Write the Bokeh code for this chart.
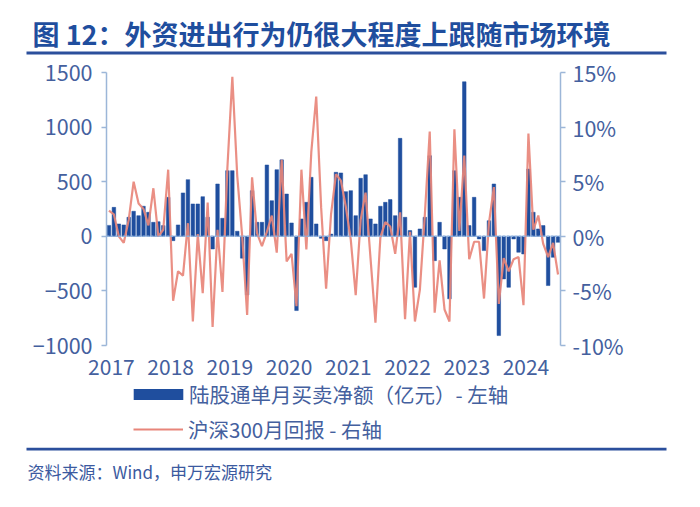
from bokeh.plotting import figure
from bokeh.layouts import column
from bokeh.models import (Range1d, LinearAxis, FixedTicker, Span, Label, Legend,
                          LegendItem, BoxAnnotation, CustomJSTickFormatter, ColumnDataSource)
from bokeh.embed import file_html
from bokeh.resources import INLINE

# ---------------- data ----------------
years = ["2017", "2018", "2019", "2020", "2021", "2022", "2023", "2024"]
months = [f"{2017 + i // 12}-{i % 12 + 1:02d}" for i in range(92)]

# 陆股通单月买卖净额（亿元）, Jan 2017 - Aug 2024
flow_2017 = [100, 265, 113, 104, 174, 229, 189, 275, 220, 128, 134, 98]
flow_2018 = [357, -40, 104, 397, 519, 296, 296, 363, 174, -116, 479, 165]
flow_2019 = [601, 601, 46, -200, -537, 418, 128, 128, 653, 326, 610, 700]
flow_2020 = [387, 122, -680, 159, 311, 540, 113, -18, -40, 20, 586, 580]
flow_2021 = [409, 418, 189, 531, 564, 159, 113, 275, 311, 336, 189, 897]
flow_2022 = [174, 52, -467, 67, 174, 738, -223, 128, -116, -573, 601, 357]
flow_2023 = [1415, 98, 357, -24, -131, 143, 479, -909, -390, -467, -24, -146]
flow_2024 = [-162, 616, 220, 67, 98, -451, -192, -55]

# 沪深300月回报 (%)
ret_2017 = [2.35, 2.0, 0.0, -0.6, 1.5, 5.0, 3.0, 2.5, 1.0, 4.4, 0.0, 0.6]
ret_2018 = [6.1, -5.9, -3.2, -3.6, 1.2, -7.8, 0.2, -5.2, 3.1, -8.3, 0.6, -5.1]
ret_2019 = [6.3, 14.6, 5.5, 0.0, -7.2, 5.4, 0.3, -0.9, 0.4, 1.9, -1.5, 7.0]
ret_2020 = [-2.3, -1.6, -6.4, 6.1, -1.2, 7.7, 12.8, 2.6, -4.8, 2.0, 5.7, 5.1]
ret_2021 = [2.7, -0.3, -5.4, 1.5, 4.0, -2.0, -7.9, -0.1, 1.3, 0.9, -1.6, 2.2]
ret_2022 = [-7.6, 0.4, -7.8, -4.9, 1.9, 9.6, -7.0, -2.2, -6.7, -7.8, 9.8, 0.5]
ret_2023 = [7.4, -2.1, -0.5, -0.5, -5.7, 1.2, 4.5, -6.2, -2.0, -3.2, -2.1, -1.9]
ret_2024 = [-6.3, 9.4, 0.6, 1.9, -0.7, -1.9, -0.6, -3.5]

left_ticks = [-1000, -500, 0, 500, 1000, 1500]
right_ticks = [-10, -5, 0, 5, 10, 15]

title_text = "图 12：外资进出行为仍很大程度上跟随市场环境"
bar_label = "陆股通单月买卖净额（亿元）- 左轴"
line_label = "沪深300月回报 - 右轴"
source_text = "资料来源：Wind，申万宏源研究"

flows = flow_2017 + flow_2018 + flow_2019 + flow_2020 + flow_2021 + flow_2022 + flow_2023 + flow_2024
rets = ret_2017 + ret_2018 + ret_2019 + ret_2020 + ret_2021 + ret_2022 + ret_2023 + ret_2024
idx = list(range(len(months)))

src = ColumnDataSource(dict(x=idx, month=months, flow=flows, ret=rets))

FONT = "Noto Sans CJK SC"
BLUE = "#1f4e9e"
RED = "#e8857a"
AXIS = "#9cb6d8"
TXT = "#44609e"
RULE = "#2b4f9c"


def blank(h, yr):
    f = figure(width=700, height=h, output_backend="svg", toolbar_location=None,
               x_range=Range1d(0, 700), y_range=yr, min_border=0, frame_align=False)
    f.axis.visible = False
    f.grid.visible = False
    f.outline_line_color = None
    return f


# ---------------- header ----------------
head = blank(56, Range1d(56, 0))
head.add_layout(Label(x=32, y=33, text=title_text, text_font=FONT, text_font_size="27px",
                      text_font_style="bold", text_color="#1f4e9e", text_baseline="middle"))
head.add_layout(BoxAnnotation(left=26, right=666, top=51, bottom=54, fill_color=RULE,
                              fill_alpha=1, line_color=None))

# ---------------- main chart ----------------
p = figure(width=700, height=324, output_backend="svg", toolbar_location=None,
           x_range=Range1d(-0.5, len(months) - 0.5), y_range=Range1d(-1000, 1500),
           min_border_left=106, min_border_right=140, min_border_top=16, min_border_bottom=35,
           frame_align=False)
p.extra_y_ranges = {"pct": Range1d(-10, 15)}
p.outline_line_color = None
p.grid.visible = False

bars = p.vbar(x="x", top="flow", width=0.72, source=src, fill_color=BLUE, line_color=BLUE, line_width=0.5)
line = p.line(x="x", y="ret", source=src, y_range_name="pct", line_color=RED, line_width=2.2, line_alpha=0.92)

p.add_layout(Span(location=0, dimension="width", line_color="#8fb2de", line_width=1.5, line_dash="3 1"))

ya = p.yaxis[0]
ya.ticker = FixedTicker(ticks=left_ticks)
ra = LinearAxis(y_range_name="pct", ticker=FixedTicker(ticks=right_ticks),
                formatter=CustomJSTickFormatter(code="return tick + '%';"))
p.add_layout(ra, "right")
for ax in (ya, ra):
    ax.axis_line_color = AXIS
    ax.axis_line_width = 1.5
    ax.major_tick_line_color = AXIS
    ax.major_tick_line_width = 1.5
    ax.major_tick_in = 0
    ax.major_tick_out = 5
    ax.minor_tick_line_color = None
    ax.major_label_text_font = FONT
    ax.major_label_text_font_size = "21.5px"
    ax.major_label_text_color = TXT
ya.major_label_standoff = 9
ra.major_label_standoff = 7

xa = p.xaxis[0]
year_ticks = [12 * k + 0.5 for k in range(len(years))]
xa.ticker = FixedTicker(ticks=year_ticks)
xa.major_label_overrides = {t: y for t, y in zip(year_ticks, years)}
xa.axis_line_color = None
xa.major_tick_line_color = None
xa.minor_tick_line_color = None
xa.major_label_text_font = FONT
xa.major_label_text_font_size = "21px"
xa.major_label_text_color = TXT
xa.major_label_standoff = 7

# ---------------- legend ----------------
lg = blank(67, Range1d(0, 67))
off = ColumnDataSource(dict(x=[-1000, -999], top=[-1000, -1000], y=[-1000, -1000]))
lb = lg.vbar(x="x", top="top", bottom="top", width=1, source=off, fill_color=BLUE, line_color=None)
ll = lg.line(x="x", y="y", source=off, line_color=RED, line_width=2)


def make_legend(item, loc, gw):
    L = Legend(items=[item], location=loc, orientation="vertical")
    L.glyph_width = gw
    L.glyph_height = 14
    L.label_text_font = FONT
    L.label_text_font_size = "20.5px"
    L.label_text_color = TXT
    L.label_standoff = 0 if gw > 55 else 5
    L.padding = 0
    L.margin = 0
    L.border_line_color = None
    L.background_fill_alpha = 0
    return L


lg.add_layout(make_legend(LegendItem(label=bar_label, renderers=[lb]), (127, 38), 62))
lg.add_layout(make_legend(LegendItem(label=line_label, renderers=[ll]), (133, 3), 50))

# ---------------- footer ----------------
foot = blank(60, Range1d(60, 0))
foot.add_layout(BoxAnnotation(left=26, right=666, top=0, bottom=3, fill_color=RULE,
                              fill_alpha=1, line_color=None))
foot.add_layout(Label(x=27, y=24, text=source_text, text_font=FONT, text_font_size="17px",
                      text_color="#3b5aa0", text_baseline="middle"))

layout = column(head, p, lg, foot, spacing=0)
open("out.html", "w").write(file_html(layout, INLINE))
